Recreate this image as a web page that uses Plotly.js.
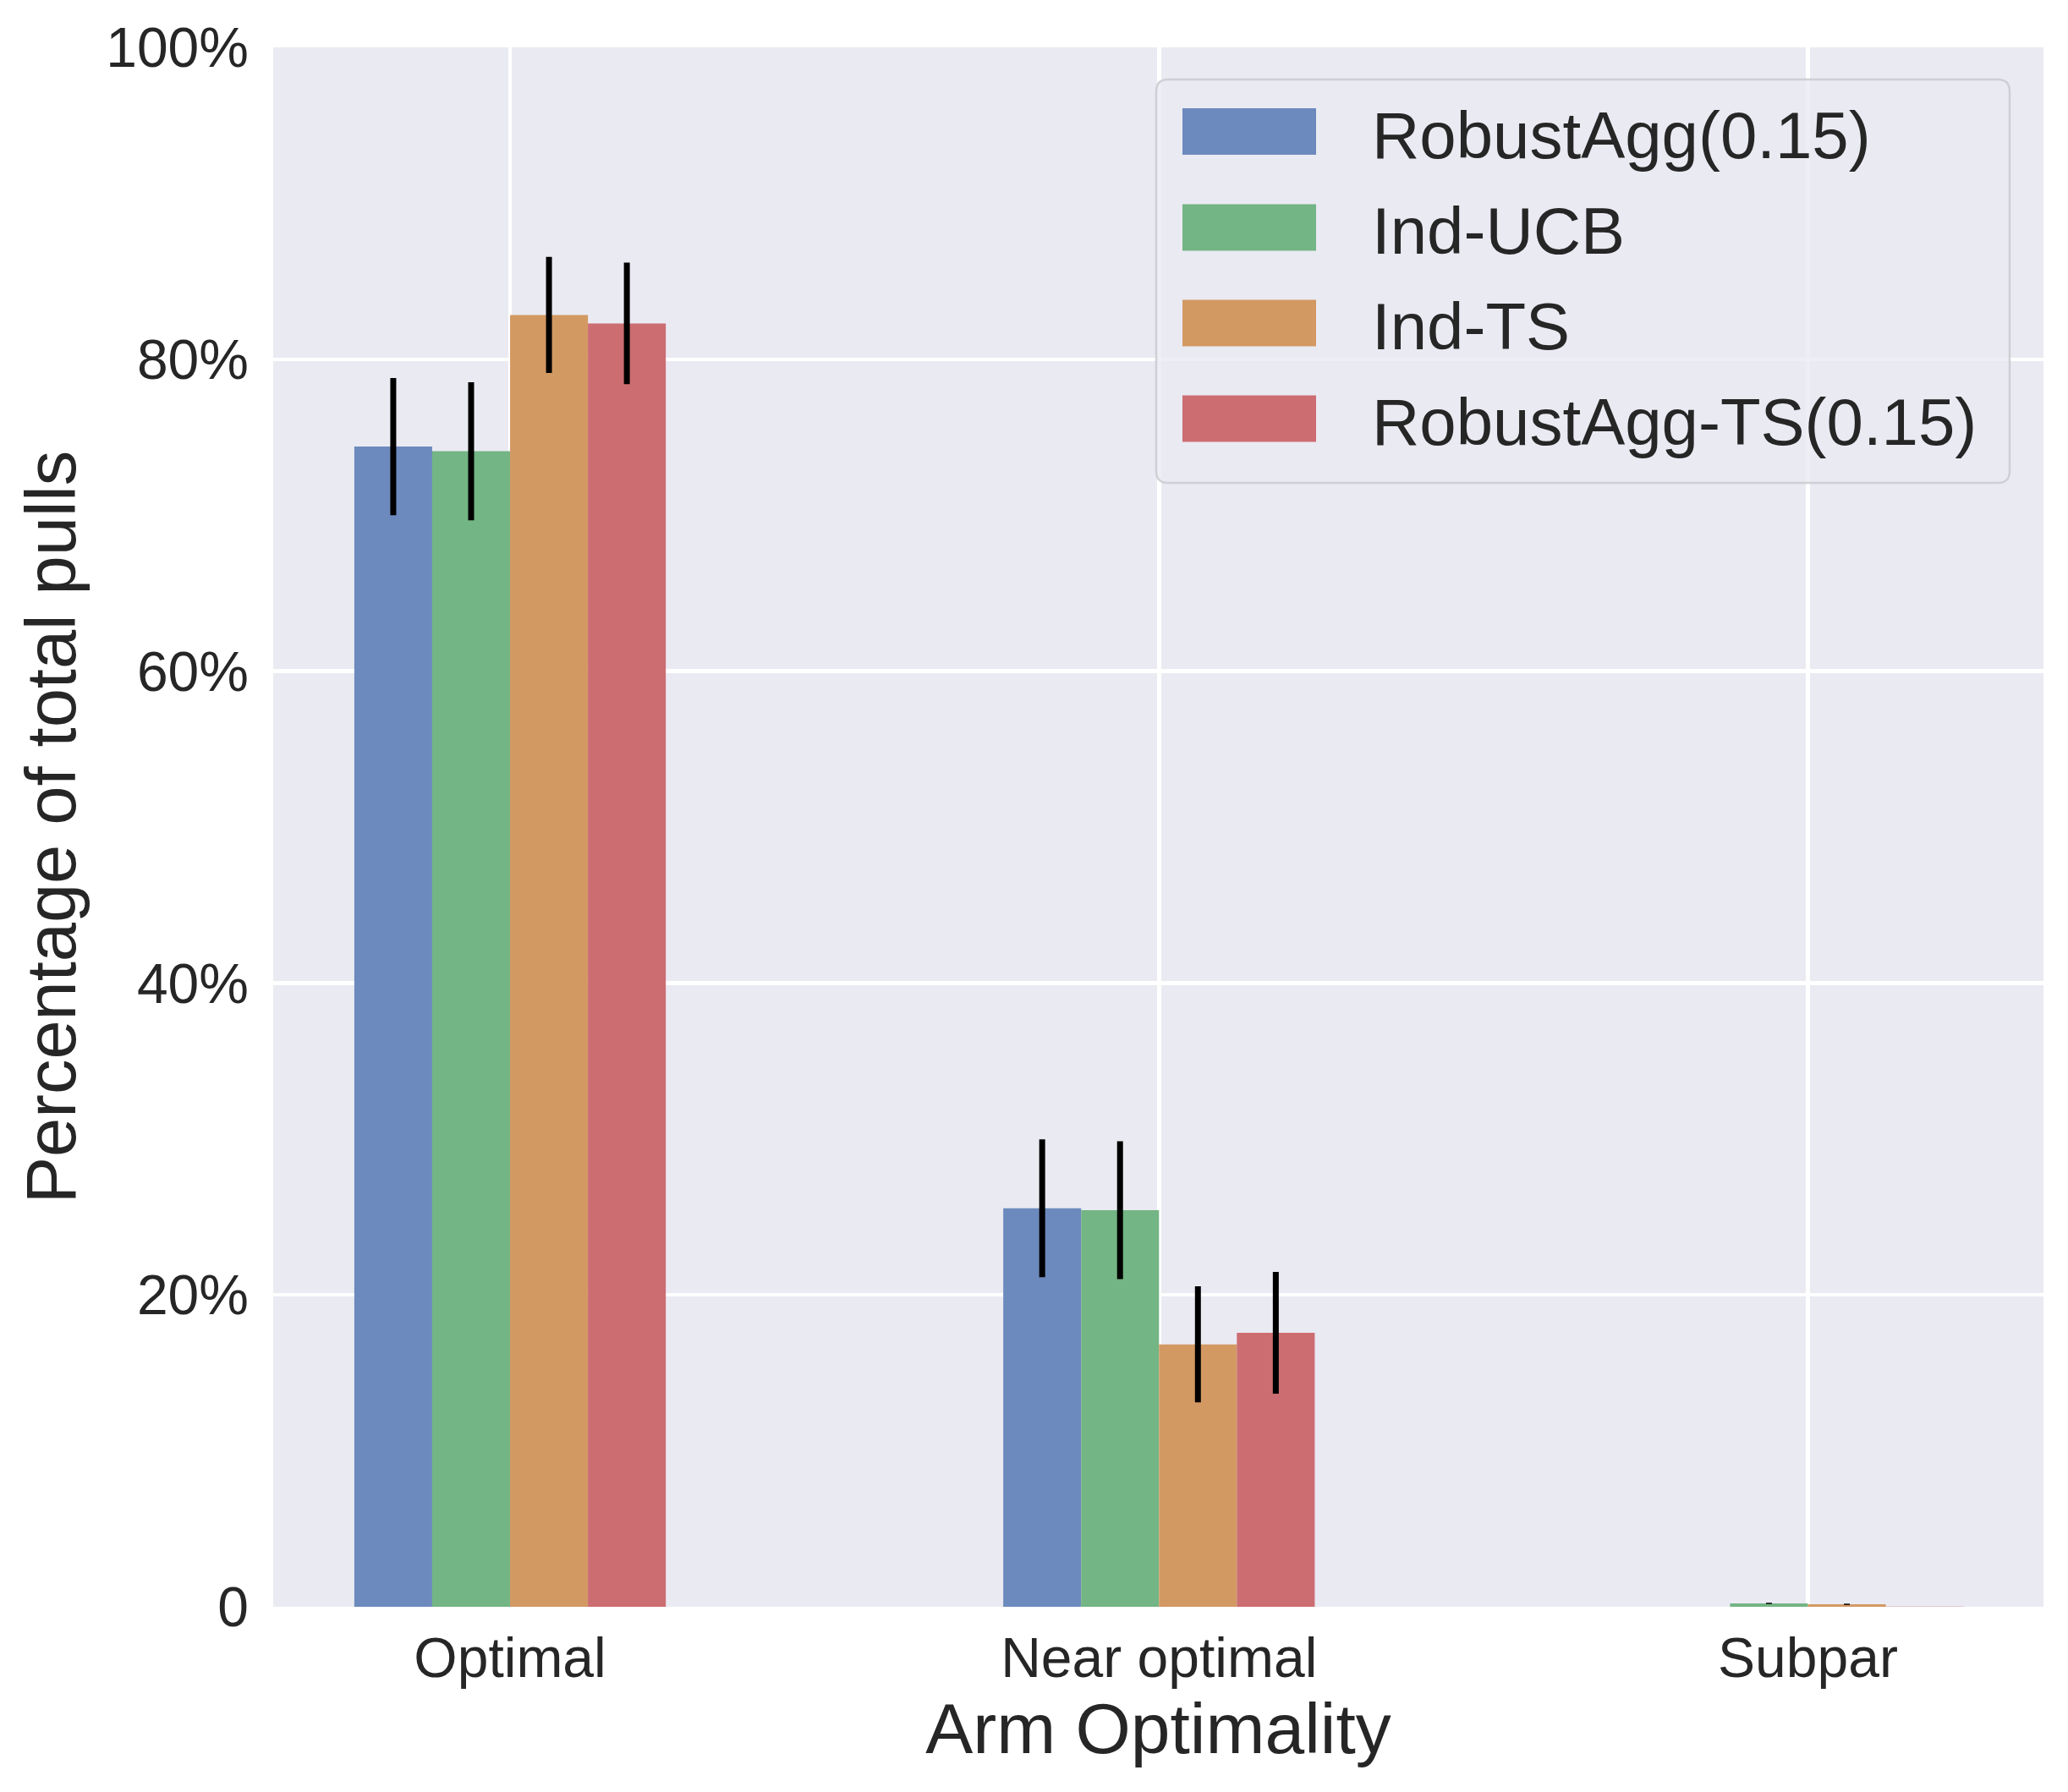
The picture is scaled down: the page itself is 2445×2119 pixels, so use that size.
<!DOCTYPE html>
<html>
<head>
<meta charset="utf-8">
<script src="https://cdn.plot.ly/plotly-3.0.1.min.js"></script>
<style>html, body { margin: 0; padding: 0; background: #fff; }</style>
</head>
<body>
<div id="chart"></div>
<script>
  // data (fraction of total pulls)
  const categories = ['Optimal', 'Near optimal', 'Subpar'];
  const seriesNames = ['RobustAgg(0.15)', 'Ind-UCB', 'Ind-TS', 'RobustAgg-TS(0.15)'];

  const robustAgg      = [0.744, 0.2555, 0];
  const robustAggErr   = [0.044, 0.0442, 0];
  const indUCB         = [0.741, 0.2543, 0.0022];
  const indUCBErr      = [0.0443, 0.0442, 0.0004];
  const indTS          = [0.8284, 0.1683, 0.0016];
  const indTSErr       = [0.0372, 0.0372, 0.0004];
  const robustAggTS    = [0.823, 0.1757, 0.0002];
  const robustAggTSErr = [0.039, 0.039, 0];

  const yTickVals = [0, 0.2, 0.4, 0.6, 0.8, 1.0];
  const yTickText = ['0', '20%', '40%', '60%', '80%', '100%'];

  const values = [robustAgg, indUCB, indTS, robustAggTS];
  const errors = [robustAggErr, indUCBErr, indTSErr, robustAggTSErr];
  // seaborn deep colours at alpha 0.8 over the #EAEAF2 axes face
  const colors = ['#6c8abd', '#73b584', '#d39963', '#cc6d72'];

  const W = 2445, H = 2119;
  const M = {l: 323, r: 29, t: 56, b: 219};
  const plotW = W - M.l - M.r, plotH = H - M.t - M.b;
  // pixel -> paper helpers for the hand built legend
  const px = x => (x - M.l) / plotW;
  const py = y => (H - M.b - y) / plotH;

  const textColor = '#262626';
  const fontFamily = '"Liberation Sans", Arial, sans-serif';

  let traces = seriesNames.map((name, i) => ({
    type: 'bar',
    name: name,
    x: categories,
    y: values[i],
    marker: {color: colors[i], line: {width: 0}},
    error_y: {type: 'data', array: errors[i], visible: true, color: '#000', thickness: 7, width: 0},
    hoverinfo: 'skip'
  }));

  // legend: box, swatches and labels
  const box = {x0: 1367, x1: 2376, y0: 94, y1: 571, r: 14};
  const roundRect = (b) => {
    const r = b.r;
    return 'M' + px(b.x0 + r) + ',' + py(b.y0) +
      ' L' + px(b.x1 - r) + ',' + py(b.y0) +
      ' Q' + px(b.x1) + ',' + py(b.y0) + ' ' + px(b.x1) + ',' + py(b.y0 + r) +
      ' L' + px(b.x1) + ',' + py(b.y1 - r) +
      ' Q' + px(b.x1) + ',' + py(b.y1) + ' ' + px(b.x1 - r) + ',' + py(b.y1) +
      ' L' + px(b.x0 + r) + ',' + py(b.y1) +
      ' Q' + px(b.x0) + ',' + py(b.y1) + ' ' + px(b.x0) + ',' + py(b.y1 - r) +
      ' L' + px(b.x0) + ',' + py(b.y0 + r) +
      ' Q' + px(b.x0) + ',' + py(b.y0) + ' ' + px(b.x0 + r) + ',' + py(b.y0) + ' Z';
  };

  let shapes = [{
    type: 'path', xref: 'paper', yref: 'paper', path: roundRect(box),
    fillcolor: 'rgba(234,234,242,0.8)', line: {color: 'rgba(204,204,210,0.9)', width: 2.5}
  }];
  let annotations = [];
  const rowY = [155.5, 269, 382, 495];
  seriesNames.forEach((name, i) => {
    shapes.push({
      type: 'rect', xref: 'paper', yref: 'paper',
      x0: px(1398), x1: px(1556), y0: py(rowY[i] - 27.5), y1: py(rowY[i] + 27.5),
      fillcolor: colors[i], line: {width: 0}
    });
    annotations.push({
      xref: 'paper', yref: 'paper', x: px(1620), y: py(rowY[i] + 4),
      xanchor: 'left', yanchor: 'middle', showarrow: false,
      text: name, font: {size: 78, color: textColor, family: fontFamily}
    });
  });

  const layout = {
    width: W, height: H,
    margin: M,
    paper_bgcolor: '#ffffff',
    plot_bgcolor: '#EAEAF2',
    font: {family: fontFamily, color: textColor},
    barmode: 'group',
    bargap: 0.52,
    bargroupgap: 0,
    showlegend: false,
    xaxis: {
      type: 'category',
      range: [-0.365, 2.363],
      showgrid: true, gridcolor: '#ffffff', gridwidth: 4.5,
      showline: false, zeroline: false, ticks: '',
      tickfont: {size: 66, color: textColor},
      ticklabelstandoff: 16,
      automargin: false,
      title: {text: 'Arm Optimality', font: {size: 84, color: textColor}, standoff: 10}
    },
    yaxis: {
      range: [0, 1],
      tickvals: yTickVals, ticktext: yTickText,
      showgrid: true, gridcolor: '#ffffff', gridwidth: 4.5,
      showline: false, zeroline: false, ticks: '',
      tickfont: {size: 66, color: textColor},
      ticklabelstandoff: 28,
      automargin: false,
      title: {text: 'Percentage of total pulls', font: {size: 83, color: textColor}, standoff: 8}
    },
    shapes: shapes,
    annotations: annotations
  };

  Plotly.newPlot('chart', traces, layout, {displayModeBar: false, staticPlot: true});
</script>
</body>
</html>
